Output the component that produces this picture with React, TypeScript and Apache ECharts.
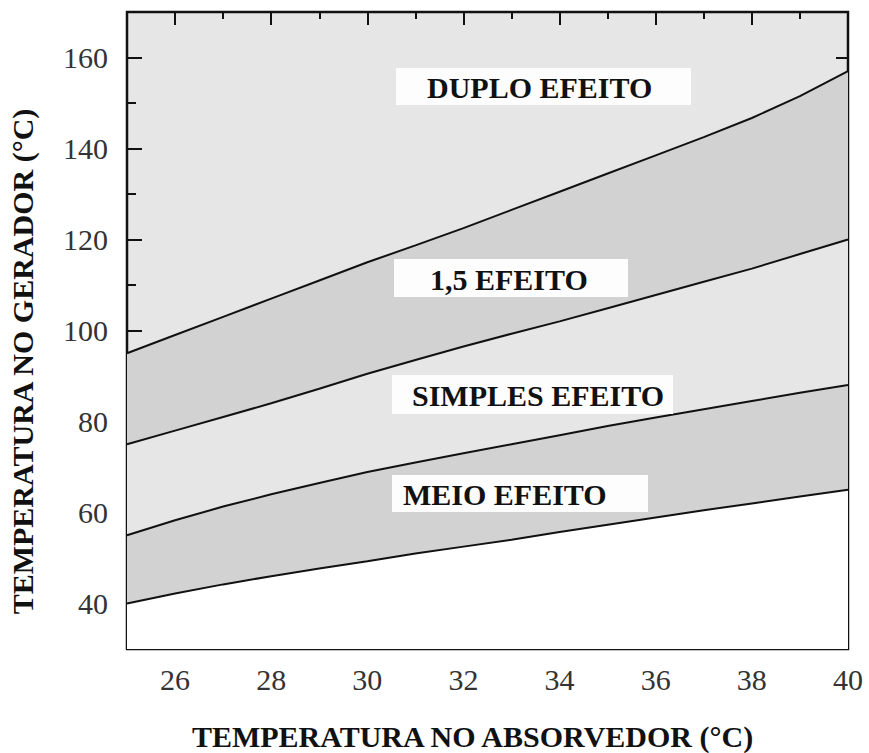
import React, { useEffect, useRef } from "react";
import * as echarts from "echarts";

// Absorber temperature (°C) – x values
const absorberTemps = [25, 26, 27, 28, 29, 30, 31, 32, 33, 34, 35, 36, 37, 38, 39, 40];
// Generator temperature boundaries (°C)
const duploBoundary = [95, 99, 103, 107, 111, 115, 118.7, 122.5, 126.5, 130.5, 134.5, 138.5, 142.5, 146.7, 151.5, 157];
const umEMeioBoundary = [75, 78, 81, 84, 87.2, 90.5, 93.5, 96.5, 99.3, 102, 104.9, 107.8, 110.7, 113.6, 116.8, 120];
const simplesBoundary = [55, 58.3, 61.3, 64, 66.5, 68.9, 71, 73, 75, 77, 79, 80.9, 82.7, 84.5, 86.3, 88];
const meioBoundary = [40, 42.2, 44.2, 46, 47.7, 49.3, 51, 52.5, 54, 55.7, 57.3, 58.9, 60.5, 62, 63.5, 65];

const xMajorTicks = [26, 28, 30, 32, 34, 36, 38, 40];
const xMinorTicks = [27, 29, 31, 33, 35, 37, 39];
const yMajorTicks = [40, 60, 80, 100, 120, 140, 160];
const yMinorTicks = [50, 70, 90, 110, 130, 150];

const regionLabels = ["DUPLO EFEITO", "1,5 EFEITO", "SIMPLES EFEITO", "MEIO EFEITO"];

const LIGHT = "#e6e6e6";
const DARK = "#d2d2d2";
const SERIF = "Liberation Serif";

function pairs(ys: number[]) {
  return absorberTemps.map((x, i) => [x, ys[i]]);
}

export default function App() {
  const ref = useRef<HTMLDivElement>(null);
  useEffect(() => {
    if (!ref.current) return;
    const chart = echarts.init(ref.current, undefined, { renderer: "svg" });

    const tickAxisX = (pos: "top" | "bottom", values: number[], len: number, extra: any = {}) => ({
      type: "value",
      position: pos,
      min: 25,
      max: 40,
      axisLine: { show: false },
      axisTick: {
        show: true,
        inside: true,
        length: len,
        customValues: values,
        lineStyle: { color: "#111", width: 2 },
      },
      axisLabel: { show: false },
      splitLine: { show: false },
      ...extra,
    });
    const tickAxisY = (pos: "left" | "right", values: number[], len: number, extra: any = {}) => ({
      type: "value",
      position: pos,
      min: 30,
      max: 170,
      axisLine: { show: false },
      axisTick: {
        show: true,
        inside: true,
        length: len,
        customValues: values,
        lineStyle: { color: "#111", width: 2 },
      },
      axisLabel: { show: false },
      splitLine: { show: false },
      ...extra,
    });

    const lineSeries = (name: string, ys: number[], fill: string) => ({
      name,
      type: "line",
      data: pairs(ys),
      showSymbol: false,
      symbol: "none",
      smooth: false,
      lineStyle: { color: "#111", width: 2 },
      areaStyle: { color: fill, opacity: 1, origin: "start" },
      xAxisIndex: 0,
      yAxisIndex: 0,
    });

    const boxes = [
      { x: 396, y: 68, w: 295, h: 37, tx: 427 },
      { x: 394, y: 259, w: 234, h: 38, tx: 430 },
      { x: 392, y: 375, w: 281, h: 39, tx: 412 },
      { x: 392, y: 475, w: 256, h: 37, tx: 403 },
    ];

    const graphics: any[] = [];
    boxes.forEach((b, i) => {
      graphics.push({
        type: "rect",
        z: 100,
        shape: { x: b.x, y: b.y, width: b.w, height: b.h },
        style: { fill: "#fdfdfd" },
      });
      graphics.push({
        type: "text",
        z: 101,
        x: b.tx,
        y: b.y + b.h / 2 + 1,
        style: {
          text: regionLabels[i],
          fill: "#111",
          fontFamily: SERIF,
          fontSize: 30,
          fontWeight: "bold",
          verticalAlign: "middle",
        },
      });
    });

    chart.setOption({
      animation: false,
      backgroundColor: "#ffffff",
      textStyle: { fontFamily: SERIF },
      grid: {
        left: 127,
        right: 21,
        top: 12,
        bottom: 104,
        show: true,
        containLabel: false,
        outerBoundsMode: "none",
        backgroundColor: LIGHT,
        borderColor: "#111",
        borderWidth: 2.5,
      },
      xAxis: [
        tickAxisX("bottom", xMajorTicks, 12, {
          axisLabel: {
            show: true,
            customValues: xMajorTicks,
            fontSize: 30,
            fontFamily: SERIF,
            color: "#333",
            margin: 15,
          },
          name: "TEMPERATURA NO ABSORVEDOR (°C)",
          nameLocation: "middle",
          nameGap: 72,
          nameTextStyle: {
            fontSize: 30,
            fontWeight: "bold",
            fontFamily: SERIF,
            color: "#111",
            padding: [0, 30, 0, 0],
          },
        }),
        tickAxisX("bottom", xMinorTicks, 6),
        tickAxisX("top", xMajorTicks, 13),
        tickAxisX("top", xMinorTicks, 7),
      ],
      yAxis: [
        tickAxisY("left", yMajorTicks, 15, {
          axisLabel: {
            show: true,
            customValues: yMajorTicks,
            fontSize: 30,
            fontFamily: SERIF,
            color: "#333",
            margin: 19,
          },
          name: "TEMPERATURA NO GERADOR (°C)",
          nameLocation: "middle",
          nameGap: 90,
          nameRotate: 90,
          nameTextStyle: {
            fontSize: 30,
            fontWeight: "bold",
            fontFamily: SERIF,
            color: "#111",
            padding: [0, 62, 0, 0],
          },
        }),
        tickAxisY("left", yMinorTicks, 9),
        tickAxisY("right", yMajorTicks, 12),
        tickAxisY("right", yMinorTicks, 8),
      ],
      series: [
        lineSeries("Duplo / 1,5 efeito", duploBoundary, DARK),
        lineSeries("1,5 / simples efeito", umEMeioBoundary, LIGHT),
        lineSeries("Simples / meio efeito", simplesBoundary, DARK),
        lineSeries("Meio efeito", meioBoundary, "#ffffff"),
      ],
      graphic: graphics,
    });
    return () => chart.dispose();
  }, []);
  return (
    <div
      ref={ref}
      style={{ position: "fixed", left: 0, top: 0, width: 869, height: 753, background: "#fff" }}
    />
  );
}
